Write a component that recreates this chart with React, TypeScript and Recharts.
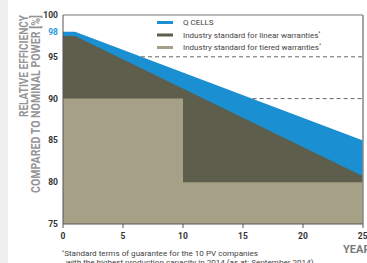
import { AreaChart, Area, XAxis, YAxis, ReferenceLine, Legend } from "recharts";

const years = [0, 1, 10, 25];
const qCells = [98, 98, null, 85];
const linear = [97.5, 97.5, null, 80.7];
const tiered = [90, null, 80, 80];

const xTicks = [0, 5, 10, 15, 20, 25];
const yTicks = [75, 80, 85, 90, 95, 98, 100];

// dashed guide lines start where the Q CELLS curve crosses them
const guideLevels = [95, 90];
const guideFrom = [6.5, 15.8];

const seriesNames = [
  "Q CELLS",
  "Industry standard for linear warranties",
  "Industry standard for tiered warranties",
];
const seriesColors = ["#1a8fd1", "#5e5e4c", "#a6a186"];

const rows = years.map((year, i) => ({
  year,
  q: qCells[i],
  lin: linear[i],
  tier: tiered[i],
}));

const font = "'Liberation Sans Narrow', 'Roboto', 'DejaVu Sans', sans-serif";

function YTick(props: any) {
  const { x, y, payload } = props;
  const hl = payload.value === 98;
  return (
    <text
      x={x}
      y={y}
      dy="0.35em"
      textAnchor="end"
      fontSize={8.5}
      fontWeight={700}
      fontFamily={font}
      fill={hl ? "#2a9be0" : "#333"}
    >
      {payload.value}
    </text>
  );
}

function LegendBox() {
  return (
    <svg width={200} height={42}>
      {seriesNames.map((name, i) => (
        <g key={name} transform={`translate(0, ${i * 12.5})`}>
          <rect x={0} y={5} width={16} height={3} fill={seriesColors[i]} />
          <text x={26} y={9} fontSize={8} fontFamily={font} fill="#444">
            {name}
            {i > 0 && (
              <tspan fontSize={5} dy={-3}>
                *
              </tspan>
            )}
          </text>
        </g>
      ))}
    </svg>
  );
}

export default function App() {
  return (
    <div style={{ position: "absolute", left: 0, top: 0, width: 367, height: 263, background: "#fff", overflow: "hidden" }}>
      <div style={{ position: "absolute", left: 0, top: 0, width: 8, height: 263, background: "#efefef" }} />
      <AreaChart width={367} height={263} data={rows} margin={{ top: 15, right: 4, bottom: 19, left: 0 }}>
        <XAxis
          dataKey="year"
          type="number"
          domain={[0, 25]}
          ticks={xTicks}
          height={20}
          tickSize={4}
          tickMargin={5}
          axisLine={{ stroke: "#555" }}
          tickLine={{ stroke: "#555" }}
          tick={{ fontSize: 8.5, fontWeight: 700, fill: "#333", fontFamily: font }}
        />
        <YAxis
          domain={[75, 100]}
          ticks={yTicks}
          width={63}
          tickSize={3}
          tickMargin={2}
          tickLine={false}
          axisLine={{ stroke: "#555" }}
          tick={<YTick />}
          interval={0}
        />
        <Area
          dataKey="q"
          type="linear"
          stroke="none"
          fill={seriesColors[0]}
          fillOpacity={1}
          connectNulls
          isAnimationActive={false}
        />
        <Area
          dataKey="lin"
          type="linear"
          stroke="none"
          fill={seriesColors[1]}
          fillOpacity={1}
          connectNulls
          isAnimationActive={false}
        />
        <Area
          dataKey="tier"
          type="stepAfter"
          stroke="none"
          fill={seriesColors[2]}
          fillOpacity={1}
          connectNulls
          isAnimationActive={false}
        />
        {guideLevels.map((lvl, i) => (
          <ReferenceLine
            key={lvl}
            segment={[
              { x: guideFrom[i], y: lvl },
              { x: 25, y: lvl },
            ]}
            stroke="#666"
            strokeDasharray="4 3"
          />
        ))}
        <ReferenceLine y={100} stroke="#777" />
        <ReferenceLine x={25} stroke="#888" strokeWidth={1.5} />
        <Legend
          layout="horizontal"
          verticalAlign="middle"
          align="center"
          content={<LegendBox />}
          wrapperStyle={{ left: 157, top: 16, width: 200, height: 42 }}
        />
      </AreaChart>
      <svg width={367} height={263} style={{ position: "absolute", left: 0, top: 0, pointerEvents: "none" }}>
        <text
          transform="translate(28, 117) rotate(-90)"
          fontSize={12}
          fontWeight={700}
          fontFamily={font}
          fill="#959595"
          textLength={102}
          lengthAdjust="spacingAndGlyphs"
        >
          RELATIVE EFFICIENCY
        </text>
        <text
          transform="translate(40, 193) rotate(-90)"
          fontSize={12}
          fontWeight={700}
          fontFamily={font}
          fill="#959595"
          textLength={178}
          lengthAdjust="spacingAndGlyphs"
        >
          COMPARED TO NOMINAL POWER  [%]
        </text>
        <text x={343} y={253} fontSize={11} fontWeight={700} fontFamily={font} fill="#7a7a7a">
          YEARS
        </text>
        <text x={62} y={256} fontSize={8.1} fontFamily={font} fill="#444">
          <tspan fontSize={5} dy={-2}>*</tspan>
          <tspan dy={2}>Standard terms of guarantee for the 10 PV companies</tspan>
        </text>
        <text x={66} y={265} fontSize={8.1} fontFamily={font} fill="#444">
          with the highest production capacity in 2014 (as at: September 2014)
        </text>
      </svg>
    </div>
  );
}
